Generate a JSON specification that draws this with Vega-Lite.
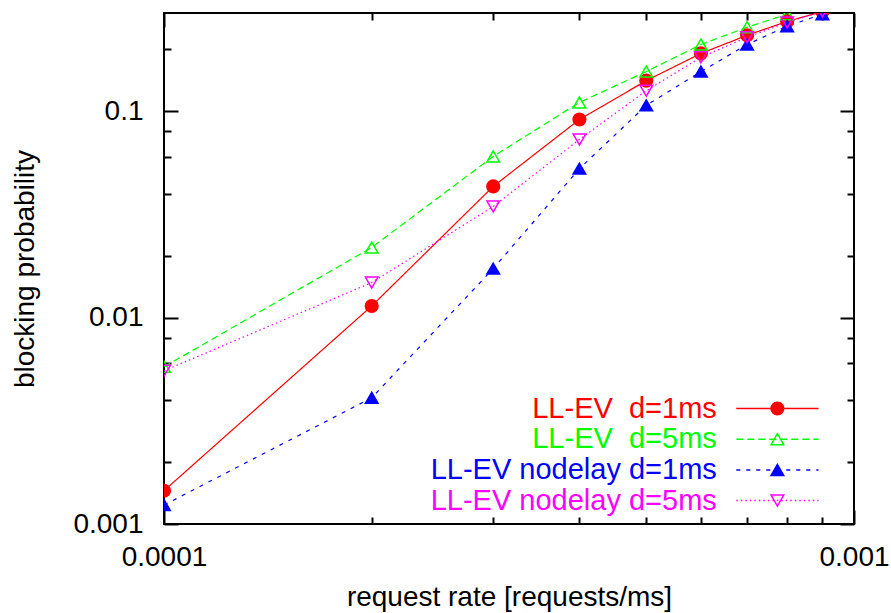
{
  "$schema": "https://vega.github.io/schema/vega-lite/v6.json",
  "width": 690,
  "height": 511,
  "autosize": {"type": "none"},
  "padding": {"left": 164, "top": 13, "right": 37, "bottom": 89},
  "background": "white",
  "config": {
    "view": {"stroke": "black", "strokeWidth": 2},
    "font": "Liberation Sans",
    "axis": {
      "domain": false,
      "grid": false,
      "labelFont": "Liberation Sans",
      "titleFont": "Liberation Sans",
      "labelFontSize": 28,
      "titleFontSize": 28,
      "titleFontWeight": "normal",
      "labelColor": "black",
      "titleColor": "black",
      "tickColor": "black",
      "tickWidth": 2,
      "labelOverlap": false,
      "labelFlush": false
    },
    "legend": {
      "padding": 0,
      "rowPadding": 0.7,
      "labelFont": "Liberation Sans",
      "labelFontSize": 29,
      "labelLimit": 600,
      "symbolSize": 160,
      "symbolStrokeWidth": 1.5,
      "labelAlign": "right",
      "labelOffset": -75.1
    }
  },
  "data": {
    "values": [
      {"series": "LL-EV\u00a0 d=1ms", "rate": 0.0001, "p": 0.00145},
      {"series": "LL-EV\u00a0 d=1ms", "rate": 0.0002, "p": 0.0114},
      {"series": "LL-EV\u00a0 d=1ms", "rate": 0.0003, "p": 0.0433},
      {"series": "LL-EV\u00a0 d=1ms", "rate": 0.0004, "p": 0.0914},
      {"series": "LL-EV\u00a0 d=1ms", "rate": 0.0005, "p": 0.141},
      {"series": "LL-EV\u00a0 d=1ms", "rate": 0.0006, "p": 0.191},
      {"series": "LL-EV\u00a0 d=1ms", "rate": 0.0007, "p": 0.234},
      {"series": "LL-EV\u00a0 d=1ms", "rate": 0.0008, "p": 0.273},
      {"series": "LL-EV\u00a0 d=1ms", "rate": 0.0009, "p": 0.305},
      {"series": "LL-EV\u00a0 d=5ms", "rate": 0.0001, "p": 0.00578},
      {"series": "LL-EV\u00a0 d=5ms", "rate": 0.0002, "p": 0.0219},
      {"series": "LL-EV\u00a0 d=5ms", "rate": 0.0003, "p": 0.0605},
      {"series": "LL-EV\u00a0 d=5ms", "rate": 0.0004, "p": 0.1106},
      {"series": "LL-EV\u00a0 d=5ms", "rate": 0.0005, "p": 0.156},
      {"series": "LL-EV\u00a0 d=5ms", "rate": 0.0006, "p": 0.211},
      {"series": "LL-EV\u00a0 d=5ms", "rate": 0.0007, "p": 0.256},
      {"series": "LL-EV\u00a0 d=5ms", "rate": 0.0008, "p": 0.296},
      {"series": "LL-EV\u00a0 d=5ms", "rate": 0.0009, "p": 0.33},
      {"series": "LL-EV nodelay d=1ms", "rate": 0.0001, "p": 0.001236},
      {"series": "LL-EV nodelay d=1ms", "rate": 0.0002, "p": 0.00409},
      {"series": "LL-EV nodelay d=1ms", "rate": 0.0003, "p": 0.0173},
      {"series": "LL-EV nodelay d=1ms", "rate": 0.0004, "p": 0.0528},
      {"series": "LL-EV nodelay d=1ms", "rate": 0.0005, "p": 0.107},
      {"series": "LL-EV nodelay d=1ms", "rate": 0.0006, "p": 0.156},
      {"series": "LL-EV nodelay d=1ms", "rate": 0.0007, "p": 0.211},
      {"series": "LL-EV nodelay d=1ms", "rate": 0.0008, "p": 0.259},
      {"series": "LL-EV nodelay d=1ms", "rate": 0.0009, "p": 0.296},
      {"series": "LL-EV nodelay d=5ms", "rate": 0.0001, "p": 0.00553},
      {"series": "LL-EV nodelay d=5ms", "rate": 0.0002, "p": 0.0148},
      {"series": "LL-EV nodelay d=5ms", "rate": 0.0003, "p": 0.0346},
      {"series": "LL-EV nodelay d=5ms", "rate": 0.0004, "p": 0.0731},
      {"series": "LL-EV nodelay d=5ms", "rate": 0.0005, "p": 0.126},
      {"series": "LL-EV nodelay d=5ms", "rate": 0.0006, "p": 0.183},
      {"series": "LL-EV nodelay d=5ms", "rate": 0.0007, "p": 0.229},
      {"series": "LL-EV nodelay d=5ms", "rate": 0.0008, "p": 0.27},
      {"series": "LL-EV nodelay d=5ms", "rate": 0.0009, "p": 0.305}
    ]
  },
  "layer": [
    {
      "mark": {"type": "line", "strokeWidth": 1.2, "clip": true},
      "encoding": {
        "x": {
          "field": "rate",
          "type": "quantitative",
          "scale": {"type": "log", "domain": [0.0001, 0.001], "nice": false},
          "axis": {
            "orient": "bottom",
            "values": [0.0001, 0.0002, 0.0003, 0.0004, 0.0005, 0.0006, 0.0007, 0.0008, 0.0009, 0.001],
            "labelExpr": "datum.value == 0.0001 ? '0.0001' : datum.value == 0.001 ? '0.001' : ''",
            "tickSize": {"condition": {"test": "datum.value == 0.0001 || datum.value == 0.001", "value": -14}, "value": -7},
            "labelPadding": 33,
            "titlePadding": 5
          },
          "title": "request rate [requests/ms]"
        },
        "y": {
          "field": "p",
          "type": "quantitative",
          "scale": {"type": "log", "domain": [0.001, 0.3], "nice": false},
          "axis": {
            "orient": "left",
            "values": [0.001, 0.002, 0.004, 0.006, 0.008, 0.01, 0.02, 0.04, 0.06, 0.08, 0.1, 0.2],
            "labelExpr": "datum.value == 0.001 ? '0.001' : datum.value == 0.01 ? '0.01' : datum.value == 0.1 ? '0.1' : ''",
            "tickSize": {"condition": {"test": "datum.value == 0.001 || datum.value == 0.01 || datum.value == 0.1", "value": -14}, "value": -7},
            "labelPadding": 35,
            "titlePadding": 33
          },
          "title": "blocking probability"
        },
        "color": {
          "field": "series",
          "type": "nominal",
          "scale": {
            "domain": ["LL-EV\u00a0 d=1ms", "LL-EV\u00a0 d=5ms", "LL-EV nodelay d=1ms", "LL-EV nodelay d=5ms"],
            "range": ["#ff0000", "#00ff00", "#0000ff", "#ff00ff"]
          },
          "legend": {
            "orient": "none",
            "legendX": 598.9,
            "legendY": 381,
            "title": null,
            "symbolType": "M-6.5,0H6.5",
            "encode": {"labels": {"update": {"fill": {"scale": "color", "field": "value"}}}}
          }
        },
        "strokeDash": {
          "field": "series",
          "type": "nominal",
          "scale": {
            "domain": ["LL-EV\u00a0 d=1ms", "LL-EV\u00a0 d=5ms", "LL-EV nodelay d=1ms", "LL-EV nodelay d=5ms"],
            "range": [[1, 0], [7, 4], [4, 6], [1.5, 3]]
          }
        }
      }
    },
    {
      "mark": {"type": "point", "size": 160, "strokeWidth": 1.5, "opacity": 1, "clip": true},
      "encoding": {
        "x": {
          "field": "rate",
          "type": "quantitative",
          "axis": {
            "orient": "top",
            "values": [0.0001, 0.0002, 0.0003, 0.0004, 0.0005, 0.0006, 0.0007, 0.0008, 0.0009, 0.001],
            "labels": false,
            "title": null,
            "tickSize": {"condition": {"test": "datum.value == 0.0001 || datum.value == 0.001", "value": -14}, "value": -7}
          }
        },
        "y": {
          "field": "p",
          "type": "quantitative",
          "axis": {
            "orient": "right",
            "values": [0.001, 0.002, 0.004, 0.006, 0.008, 0.01, 0.02, 0.04, 0.06, 0.08, 0.1, 0.2],
            "labels": false,
            "title": null,
            "tickSize": {"condition": {"test": "datum.value == 0.001 || datum.value == 0.01 || datum.value == 0.1", "value": -14}, "value": -7}
          }
        },
        "shape": {
          "field": "series",
          "type": "nominal",
          "scale": {
            "domain": ["LL-EV nodelay d=5ms", "LL-EV nodelay d=1ms", "LL-EV\u00a0 d=5ms", "LL-EV\u00a0 d=1ms"],
            "range": ["triangle-down", "triangle-up", "triangle-up", "circle"]
          },
          "legend": {
            "orient": "none",
            "legendX": 598.9,
            "legendY": 381,
            "title": null,
            "values": ["LL-EV\u00a0 d=1ms", "LL-EV\u00a0 d=5ms", "LL-EV nodelay d=1ms", "LL-EV nodelay d=5ms"],
            "labelOpacity": 0
          }
        },
        "fill": {
          "field": "series",
          "type": "nominal",
          "scale": {
            "domain": ["LL-EV nodelay d=5ms", "LL-EV nodelay d=1ms", "LL-EV\u00a0 d=5ms", "LL-EV\u00a0 d=1ms"],
            "range": ["transparent", "#0000ff", "transparent", "#ff0000"]
          }
        },
        "stroke": {
          "field": "series",
          "type": "nominal",
          "scale": {
            "domain": ["LL-EV nodelay d=5ms", "LL-EV nodelay d=1ms", "LL-EV\u00a0 d=5ms", "LL-EV\u00a0 d=1ms"],
            "range": ["#ff00ff", "#0000ff", "#00ff00", "#ff0000"]
          }
        }
      }
    }
  ],
  "resolve": {"axis": {"x": "independent", "y": "independent"}}
}
